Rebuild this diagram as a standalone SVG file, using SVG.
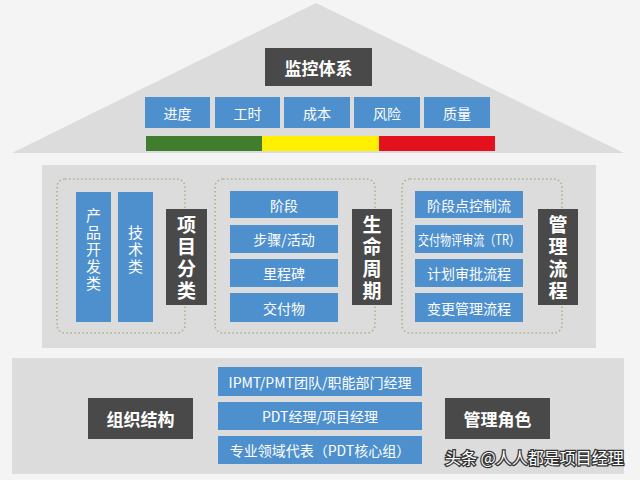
<svg xmlns="http://www.w3.org/2000/svg" width="640" height="480" viewBox="0 0 640 480">
<style>
text{font-family:"Noto Sans CJK SC","Noto Sans",sans-serif;fill:#fff;text-anchor:middle;dominant-baseline:central}
.b{fill:#4e90cd}
.d{fill:#494949}
.p{fill:#dcdcdc}
.t{font-size:14px}
.h{font-size:17px;font-weight:bold}
.v{font-size:19px;font-weight:bold;writing-mode:vertical-rl;letter-spacing:3px}
.vb{font-size:15px;writing-mode:vertical-rl;letter-spacing:2px}
.g{fill:none;stroke:#a8b48a;stroke-width:1.6;stroke-dasharray:1.5 2.5}
.w{font-size:16px;fill:#fff;stroke:#333;stroke-width:2.5;paint-order:stroke;text-anchor:start}
</style>
<rect width="640" height="480" fill="#f4f4f4"/>
<g id="roof">
<polygon class="p" points="316,3 624,153 12,153"/>
</g>
<g id="monitor"><rect class="d" x="265" y="48" width="107" height="38"/><text class="h" x="318.5" y="67">监控体系</text></g>
<g id="m1"><rect class="b" x="145" y="97" width="65" height="31"/><text class="t" x="177.5" y="112.5">进度</text></g>
<g id="m2"><rect class="b" x="215" y="97" width="65" height="31"/><text class="t" x="247.5" y="112.5">工时</text></g>
<g id="m3"><rect class="b" x="284" y="97" width="66" height="31"/><text class="t" x="317" y="112.5">成本</text></g>
<g id="m4"><rect class="b" x="354" y="97" width="66" height="31"/><text class="t" x="387" y="112.5">风险</text></g>
<g id="m5"><rect class="b" x="424" y="97" width="66" height="31"/><text class="t" x="457" y="112.5">质量</text></g>
<g id="bar">
<rect x="146" y="136" width="116" height="15" fill="#417d2f"/>
<rect x="262" y="136" width="117" height="15" fill="#fff000"/>
<rect x="379" y="136" width="116" height="15" fill="#e3101e"/>
</g>
<g id="middle">
<rect class="p" x="42" y="165" width="554" height="183"/>
</g>
<g id="connectors">
<rect class="g" x="57" y="179" width="128" height="154" rx="8"/>
<rect class="g" x="215" y="179" width="160" height="154" rx="8"/>
<rect class="g" x="402" y="179" width="160" height="154" rx="8"/>
</g>
<g id="c1"><rect class="b" x="76" y="192" width="35" height="130"/><text class="vb" x="93.5" y="250">产品开发类</text></g>
<g id="c2"><rect class="b" x="118" y="192" width="35" height="130"/><text class="vb" x="135.5" y="250">技术类</text></g>
<g id="cls"><rect class="d" x="166" y="209" width="41" height="96"/><text class="v" x="186.5" y="259">项目分类</text></g>
<g id="l1"><rect class="b" x="230" y="191" width="108" height="27"/><text class="t" x="284" y="204.5">阶段</text></g>
<g id="l2"><rect class="b" x="230" y="225" width="108" height="28"/><text class="t" x="284" y="239">步骤/活动</text></g>
<g id="l3"><rect class="b" x="230" y="259" width="108" height="28"/><text class="t" x="284" y="273">里程碑</text></g>
<g id="l4"><rect class="b" x="230" y="293" width="108" height="29"/><text class="t" x="284" y="307.5">交付物</text></g>
<g id="life"><rect class="d" x="352" y="209" width="40" height="96"/><text class="v" x="372" y="259">生命周期</text></g>
<g id="f1"><rect class="b" x="415" y="191" width="108" height="27"/><text class="t" x="469" y="204.5">阶段点控制流</text></g>
<g id="f2"><rect class="b" x="415" y="225" width="108" height="28"/><text class="t" x="469" y="239" textLength="102" lengthAdjust="spacingAndGlyphs">交付物评审流（TR）</text></g>
<g id="f3"><rect class="b" x="415" y="259" width="108" height="28"/><text class="t" x="469" y="273">计划审批流程</text></g>
<g id="f4"><rect class="b" x="415" y="293" width="108" height="29"/><text class="t" x="469" y="307.5">变更管理流程</text></g>
<g id="mgmt"><rect class="d" x="538" y="209" width="40" height="96"/><text class="v" x="558" y="259">管理流程</text></g>
<g id="bottom"><rect class="p" x="12" y="358" width="612" height="116"/></g>
<g id="org"><rect class="d" x="88" y="398" width="105" height="41"/><text class="h" x="140.5" y="418.5">组织结构</text></g>
<g id="r1"><rect class="b" x="218" y="367" width="204" height="29"/><text class="t" x="320" y="381.5">IPMT/PMT团队/职能部门经理</text></g>
<g id="r2"><rect class="b" x="218" y="402" width="204" height="28"/><text class="t" x="320" y="416">PDT经理/项目经理</text></g>
<g id="r3"><rect class="b" x="218" y="436" width="204" height="28"/><text class="t" x="320" y="450">专业领域代表（PDT核心组）</text></g>
<g id="role"><rect class="d" x="445" y="398" width="105" height="41"/><text class="h" x="497.5" y="418.5">管理角色</text></g>
<text class="w" x="445" y="457">头条 @人人都是项目经理</text>
</svg>
